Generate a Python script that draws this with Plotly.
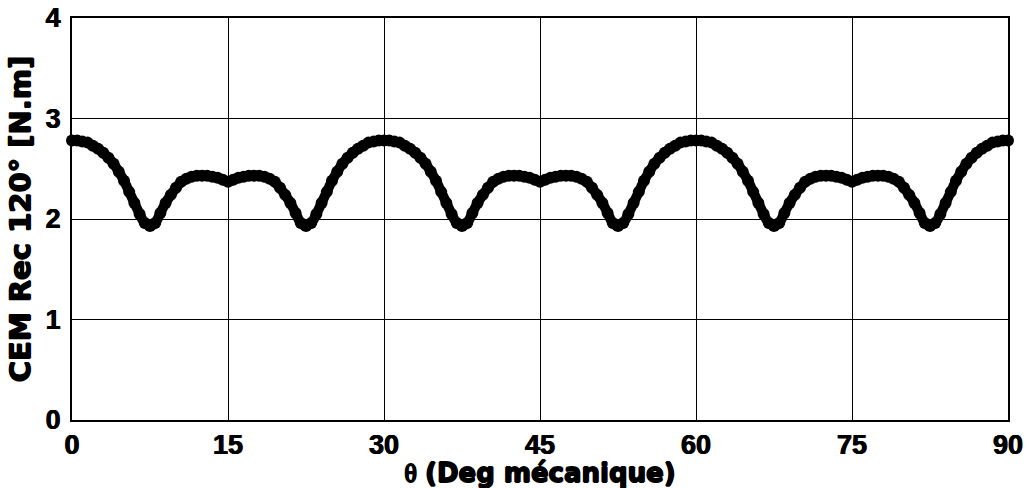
import plotly.graph_objects as go

# Mechanical angle (deg), sampled every 0.5 deg
theta = [i * 0.5 for i in range(181)]

# Electromagnetic torque, 120 deg rectangular supply [N.m]
cem = [
    # 0 - 15
    2.78, 2.78, 2.77, 2.76, 2.73, 2.70, 2.66, 2.61, 2.55, 2.47,
    2.38, 2.27, 2.16, 2.05, 1.96, 1.93, 1.96, 2.06, 2.16, 2.24,
    2.31, 2.37, 2.40, 2.42, 2.43, 2.43, 2.43, 2.42, 2.41, 2.39,
    # 15 - 30
    2.37, 2.39, 2.41, 2.42, 2.43, 2.43, 2.43, 2.42, 2.40, 2.37,
    2.31, 2.24, 2.16, 2.06, 1.96, 1.93, 1.96, 2.05, 2.16, 2.27,
    2.38, 2.47, 2.55, 2.61, 2.66, 2.70, 2.73, 2.76, 2.77, 2.78,
    # 30 - 45
    2.78, 2.78, 2.77, 2.76, 2.73, 2.70, 2.66, 2.61, 2.55, 2.47,
    2.38, 2.27, 2.16, 2.05, 1.96, 1.93, 1.96, 2.06, 2.16, 2.24,
    2.31, 2.37, 2.40, 2.42, 2.43, 2.43, 2.43, 2.42, 2.41, 2.39,
    # 45 - 60
    2.37, 2.39, 2.41, 2.42, 2.43, 2.43, 2.43, 2.42, 2.40, 2.37,
    2.31, 2.24, 2.16, 2.06, 1.96, 1.93, 1.96, 2.05, 2.16, 2.27,
    2.38, 2.47, 2.55, 2.61, 2.66, 2.70, 2.73, 2.76, 2.77, 2.78,
    # 60 - 75
    2.78, 2.78, 2.77, 2.76, 2.73, 2.70, 2.66, 2.61, 2.55, 2.47,
    2.38, 2.27, 2.16, 2.05, 1.96, 1.93, 1.96, 2.06, 2.16, 2.24,
    2.31, 2.37, 2.40, 2.42, 2.43, 2.43, 2.43, 2.42, 2.41, 2.39,
    # 75 - 90
    2.37, 2.39, 2.41, 2.42, 2.43, 2.43, 2.43, 2.42, 2.40, 2.37,
    2.31, 2.24, 2.16, 2.06, 1.96, 1.93, 1.96, 2.05, 2.16, 2.27,
    2.38, 2.47, 2.55, 2.61, 2.66, 2.70, 2.73, 2.76, 2.77, 2.78,
    2.78,
]

x_ticks = [0, 15, 30, 45, 60, 75, 90]
y_ticks = [0, 1, 2, 3, 4]

TICK_FONT = "Liberation Sans, Arial, sans-serif"
TITLE_FONT = "DejaVu Sans, sans-serif"
HEAVY = "0.8px 0 0 #000, -0.8px 0 0 #000, 0 0.8px 0 #000, 0 -0.8px 0 #000"
SEMI = "0.4px 0 0 #000, -0.4px 0 0 #000"

fig = go.Figure()
fig.add_trace(go.Scatter(
    x=theta, y=cem, mode="lines+markers",
    line=dict(color="black", width=10, shape="spline"),
    marker=dict(color="black", size=12, symbol="circle"),
    cliponaxis=False, showlegend=False,
))

axis_common = dict(
    showgrid=True, gridcolor="black", gridwidth=1,
    showline=True, linecolor="black", linewidth=2, mirror=True,
    ticks="", zeroline=False, automargin=False,
    tickfont=dict(family=TICK_FONT, size=27, color="black",
                  weight="bold", shadow=SEMI),
)

fig.update_xaxes(
    range=[0, 90], tickvals=x_ticks, ticktext=[str(v) for v in x_ticks],
    ticklabelstandoff=0,
    title=dict(
        text="<span style='font-family:Liberation Serif;font-weight:normal'>θ</span>"
             " <b>(Deg mécanique)</b>",
        standoff=3,
        font=dict(family=TITLE_FONT, size=26, color="black", shadow=HEAVY),
    ),
    **axis_common,
)
fig.update_yaxes(
    range=[0, 4], tickvals=y_ticks, ticktext=[str(v) for v in y_ticks],
    ticklabelstandoff=4,
    title=dict(
        text="<b>CEM Rec 120° [N.m]</b>", standoff=6,
        font=dict(family=TITLE_FONT, size=29, color="black", shadow=HEAVY),
    ),
    **axis_common,
)

fig.update_layout(
    width=1030, height=488,
    margin=dict(l=72, r=22, t=18, b=68),
    paper_bgcolor="white", plot_bgcolor="white",
    font=dict(family=TICK_FONT, color="black"),
)

fig.write_html("out.html")
